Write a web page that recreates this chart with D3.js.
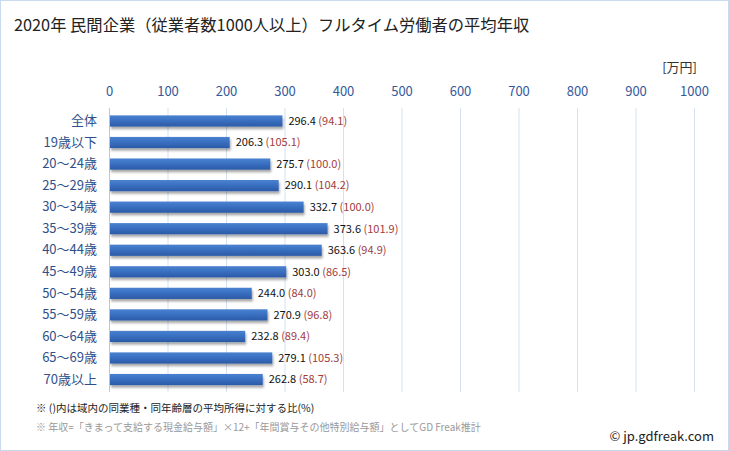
<!DOCTYPE html>
<html><head><meta charset="utf-8">
<script src="https://cdn.jsdelivr.net/npm/d3@7"></script>
<style>
body{margin:0;padding:0;background:#fff;}
svg{display:block;font-family:"Noto Sans CJK JP","Noto Sans",sans-serif;}
</style></head><body>
<div id="chart"></div>
<script>
const categories = ["全体","19歳以下","20〜24歳","25〜29歳","30〜34歳","35〜39歳","40〜44歳","45〜49歳","50〜54歳","55〜59歳","60〜64歳","65〜69歳","70歳以上"];
const values = [296.4,206.3,275.7,290.1,332.7,373.6,363.6,303.0,244.0,270.9,232.8,279.1,262.8];
const ratios = ["94.1","105.1","100.0","104.2","100.0","101.9","94.9","86.5","84.0","96.8","89.4","105.3","58.7"];
const xTicks = [0,100,200,300,400,500,600,700,800,900,1000];

const W = 729, H = 451;
const svg = d3.select("#chart").append("svg").attr("width", W).attr("height", H);

const defs = svg.append("defs");
const grad = defs.append("linearGradient").attr("id","barGrad").attr("x1",0).attr("y1",0).attr("x2",0).attr("y2",1);
grad.append("stop").attr("offset","0%").attr("stop-color","#4a82d0");
grad.append("stop").attr("offset","45%").attr("stop-color","#3a70c2");
grad.append("stop").attr("offset","100%").attr("stop-color","#2b5aa6");
const sh = defs.append("filter").attr("id","shadow").attr("x","-5%").attr("y","-20%").attr("width","110%").attr("height","180%");
sh.append("feDropShadow").attr("dx",1).attr("dy",2.5).attr("stdDeviation",1.2).attr("flood-color","#000").attr("flood-opacity",0.35);

svg.append("rect").attr("x",0.5).attr("y",0.5).attr("width",W-1).attr("height",H-1)
  .attr("fill","#fff").attr("stroke","#c9d9ee");

svg.append("text").attr("x",14).attr("y",31).attr("font-size",16.3).attr("fill","#222")
  .text("2020年 民間企業（従業者数1000人以上）フルタイム労働者の平均年収");

const x = d3.scaleLinear().domain([0,1000]).range([109,694]);
const y = d3.scaleBand().domain(categories).range([110.2,390.3]).paddingInner(0.48).paddingOuter(0.24);

// grid
svg.append("g").selectAll("line").data(xTicks).join("line")
  .attr("x1",d=>x(d)+0.5).attr("x2",d=>x(d)+0.5).attr("y1",108).attr("y2",392)
  .attr("stroke",(d)=>d===0?"#b8c8dc":"#d5e1ef").attr("stroke-width",1);

// top axis labels
const xAxis = d3.axisTop(x).tickValues(xTicks).tickFormat(d3.format("d")).tickSize(0).tickPadding(0);
const gx = svg.append("g").attr("transform","translate(0,96)").call(xAxis);
gx.select(".domain").remove();
gx.selectAll("text").attr("font-size",13).attr("fill","#35599a").attr("font-family","'Noto Sans CJK JP','Noto Sans',sans-serif");

svg.append("text").attr("x",697).attr("y",72).attr("text-anchor","end").attr("font-size",13).attr("fill","#333").text("[万円]");

// category axis
const yAxis = d3.axisLeft(y).tickSize(0).tickPadding(12);
const gy = svg.append("g").attr("transform","translate(109,0)").call(yAxis);
gy.select(".domain").remove();
gy.selectAll("text").attr("font-size",13).attr("fill","#2f4f8a").attr("font-family","'Noto Sans CJK JP','Noto Sans',sans-serif");

// bars
svg.append("g").selectAll("rect").data(values).join("rect")
  .attr("x",x(0)+1).attr("y",(d,i)=>y(categories[i]))
  .attr("width",d=>x(d)-x(0)-1).attr("height",y.bandwidth())
  .attr("fill","url(#barGrad)").attr("filter","url(#shadow)");

// value labels
const lbl = svg.append("g").selectAll("text").data(values).join("text")
  .attr("x",d=>x(d)+6).attr("y",(d,i)=>y(categories[i])+y.bandwidth()/2)
  .attr("dy","0.35em").attr("font-size",11);
lbl.append("tspan").attr("fill","#111").text(d=>d.toFixed(1));
lbl.append("tspan").attr("fill","#a23c3c").text((d,i)=>" ("+ratios[i]+")");

// footnotes
svg.append("text").attr("x",36).attr("y",412).attr("font-size",10.5).attr("fill","#222")
  .text("※ ()内は域内の同業種・同年齢層の平均所得に対する比(%)");
svg.append("text").attr("x",36).attr("y",431).attr("font-size",10).attr("fill","#999")
  .text("※ 年収=「きまって支給する現金給与額」×12+「年間賞与その他特別給与額」としてGD Freak推計");
svg.append("text").attr("x",714).attr("y",441).attr("text-anchor","end").attr("font-size",13).attr("fill","#222")
  .text("© jp.gdfreak.com");
</script></body></html>
